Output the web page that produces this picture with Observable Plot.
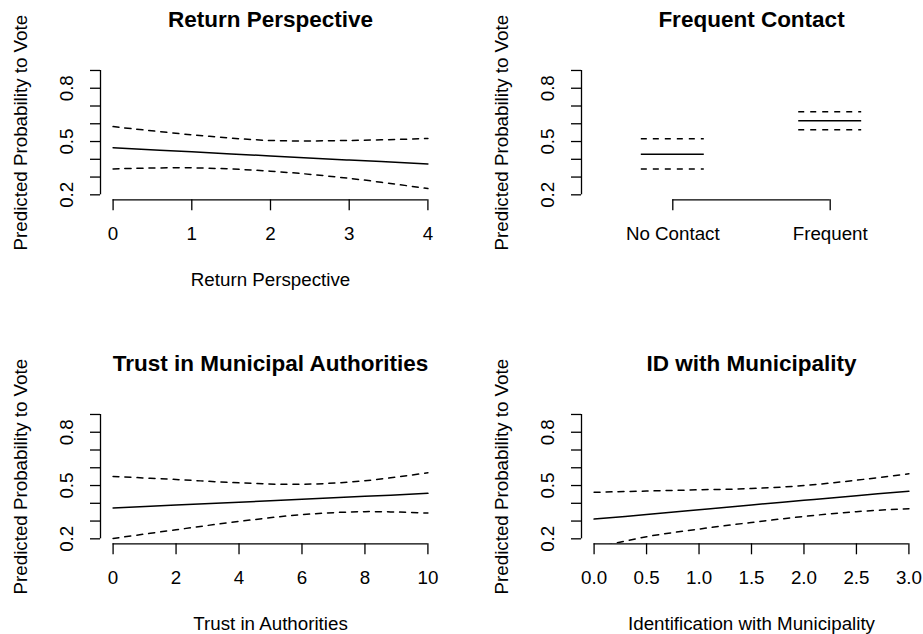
<!DOCTYPE html>
<html><head><meta charset="utf-8">
<script src="https://cdn.jsdelivr.net/npm/d3@7"></script>
<script src="https://cdn.jsdelivr.net/npm/@observablehq/plot@0.6"></script>
<style>
html,body{margin:0;padding:0;background:#fff;overflow:hidden;}
#root{position:relative;width:923px;height:634px;overflow:hidden;background:#fff;}
.panel{position:absolute;}
</style></head><body><div id="root"></div>
<script>
// ---- data ----
const yLabel = "Predicted Probability to Vote";
const yTicks = [0.2, 0.3, 0.4, 0.5, 0.6, 0.7, 0.8, 0.9];
const yTickLabels = [0.2, 0.5, 0.8];

const returnX   = [0, 1, 2, 3, 4];
const returnEst = [0.465, 0.442, 0.419, 0.396, 0.374];
const returnLo  = [0.346, 0.352, 0.333, 0.293, 0.235];
const returnHi  = [0.584, 0.538, 0.506, 0.506, 0.517];

const contactCats = ["No Contact", "Frequent"];
const contactPos  = [1, 2];
const contactEst  = [0.428, 0.617];
const contactLo   = [0.346, 0.566];
const contactHi   = [0.515, 0.667];

const trustX   = [0, 2, 4, 6, 8, 10];
const trustEst = [0.374, 0.390, 0.406, 0.423, 0.439, 0.456];
const trustLo  = [0.202, 0.251, 0.298, 0.336, 0.353, 0.345];
const trustHi  = [0.551, 0.534, 0.515, 0.507, 0.527, 0.572];

const idX   = [0, 0.5, 1, 1.5, 2, 2.5, 3];
const idEst = [0.311, 0.337, 0.364, 0.391, 0.417, 0.443, 0.468];
const idLo  = [0.148, 0.212, 0.255, 0.292, 0.326, 0.353, 0.370];
const idHi  = [0.462, 0.469, 0.476, 0.483, 0.500, 0.530, 0.566];

// ---- helpers ----
const FONT = "'Liberation Sans', Arial, Helvetica, sans-serif";
const FS = 18.75, FS_TITLE = 22.5, LW = 1.5, DASH = "6,6";
function pad(lo, hi) { const p = 0.04 * (hi - lo); return [lo - p, hi + p]; }
const Y_DOMAIN = pad(0.2, 0.9);
function rows(xs, est, lo, hi) { return xs.map((x, i) => ({x, est: est[i], lo: lo[i], hi: hi[i]})); }
const TXT = {textAnchor: "middle", lineAnchor: "middle", fill: "black"};

function panel({title, xlabel, xlim, xTicks, xTickFmt, xTickText, dataMarks, left, top, width}) {
  const xd = pad(xlim[0], xlim[1]);
  const chart = Plot.plot({
    width, height: 290,
    marginTop: 65, marginBottom: 90.7, marginLeft: 100, marginRight: width - 440,
    x: {domain: xd},
    y: {domain: Y_DOMAIN},
    style: {fontFamily: FONT, background: "white", color: "black", overflow: "visible"},
    marks: [
      Plot.axisY(yTicks, {tickSize: 10, tickFormat: () => "", label: null, strokeWidth: 1.3}),
      Plot.axisX(xTicks, {tickSize: 11, tickFormat: () => "", label: null, strokeWidth: 1.3}),
      Plot.ruleX([xd[0]], {y1: 0.2, y2: 0.9, strokeWidth: 1.3}),
      Plot.ruleY([Y_DOMAIN[0]], {x1: xTicks[0], x2: xTicks[xTicks.length - 1], strokeWidth: 1.3}),
      Plot.text(yTickLabels, {...TXT, y: d => d, text: d => d.toFixed(1), frameAnchor: "left", dx: -34, rotate: -90, fontSize: FS}),
      Plot.text(xTicks, {...TXT, x: d => d, text: xTickText ? (d, i) => xTickText[i] : xTickFmt, frameAnchor: "bottom", dy: 34, fontSize: FS}),
      Plot.text([yLabel], {...TXT, text: d => d, frameAnchor: "left", dx: -79.3, rotate: -90, fontSize: FS}),
      Plot.text([title], {...TXT, text: d => d, frameAnchor: "top", dy: -46, fontSize: FS_TITLE, fontWeight: "bold"}),
      xlabel ? Plot.text([xlabel], {...TXT, text: d => d, frameAnchor: "bottom", dy: 80, fontSize: FS}) : null,
      ...dataMarks
    ]
  });
  const div = document.createElement("div");
  div.className = "panel";
  div.style.left = left + "px";
  div.style.top = top + "px";
  div.appendChild(chart);
  document.getElementById("root").appendChild(div);
}

function curveMarks(data) {
  return [
    Plot.line(data, {x: "x", y: "est", stroke: "black", strokeWidth: LW, curve: "catmull-rom", clip: true}),
    Plot.line(data, {x: "x", y: "lo", stroke: "black", strokeWidth: LW, strokeDasharray: DASH, curve: "catmull-rom", clip: true}),
    Plot.line(data, {x: "x", y: "hi", stroke: "black", strokeWidth: LW, strokeDasharray: DASH, curve: "catmull-rom", clip: true})
  ];
}

// Panel 1: Return Perspective
panel({
  title: "Return Perspective", xlabel: "Return Perspective",
  xlim: [0, 4], xTicks: returnX, xTickFmt: d => String(d),
  dataMarks: curveMarks(rows(returnX, returnEst, returnLo, returnHi)),
  left: 0, top: 0, width: 462
});

// Panel 2: Frequent Contact
const contactData = contactCats.map((c, i) => ({cat: c, pos: contactPos[i], est: contactEst[i], lo: contactLo[i], hi: contactHi[i]}));
const HALF = 0.2;
panel({
  title: "Frequent Contact", xlabel: null,
  xlim: [0.5, 2.5], xTicks: contactPos, xTickText: contactCats,
  dataMarks: [
    Plot.ruleY(contactData, {y: "est", x1: d => d.pos - HALF, x2: d => d.pos + HALF, stroke: "black", strokeWidth: LW}),
    Plot.ruleY(contactData, {y: "lo", x1: d => d.pos - HALF, x2: d => d.pos + HALF, stroke: "black", strokeWidth: LW, strokeDasharray: DASH}),
    Plot.ruleY(contactData, {y: "hi", x1: d => d.pos - HALF, x2: d => d.pos + HALF, stroke: "black", strokeWidth: LW, strokeDasharray: DASH})
  ],
  left: 481, top: 0, width: 442
});

// Panel 3: Trust in Municipal Authorities
panel({
  title: "Trust in Municipal Authorities", xlabel: "Trust in Authorities",
  xlim: [0, 10], xTicks: trustX, xTickFmt: d => String(d),
  dataMarks: curveMarks(rows(trustX, trustEst, trustLo, trustHi)),
  left: 0, top: 344, width: 462
});

// Panel 4: ID with Municipality
panel({
  title: "ID with Municipality", xlabel: "Identification with Municipality",
  xlim: [0, 3], xTicks: idX, xTickFmt: d => d.toFixed(1),
  dataMarks: curveMarks(rows(idX, idEst, idLo, idHi)),
  left: 481, top: 344, width: 442
});
</script>
</body></html>
